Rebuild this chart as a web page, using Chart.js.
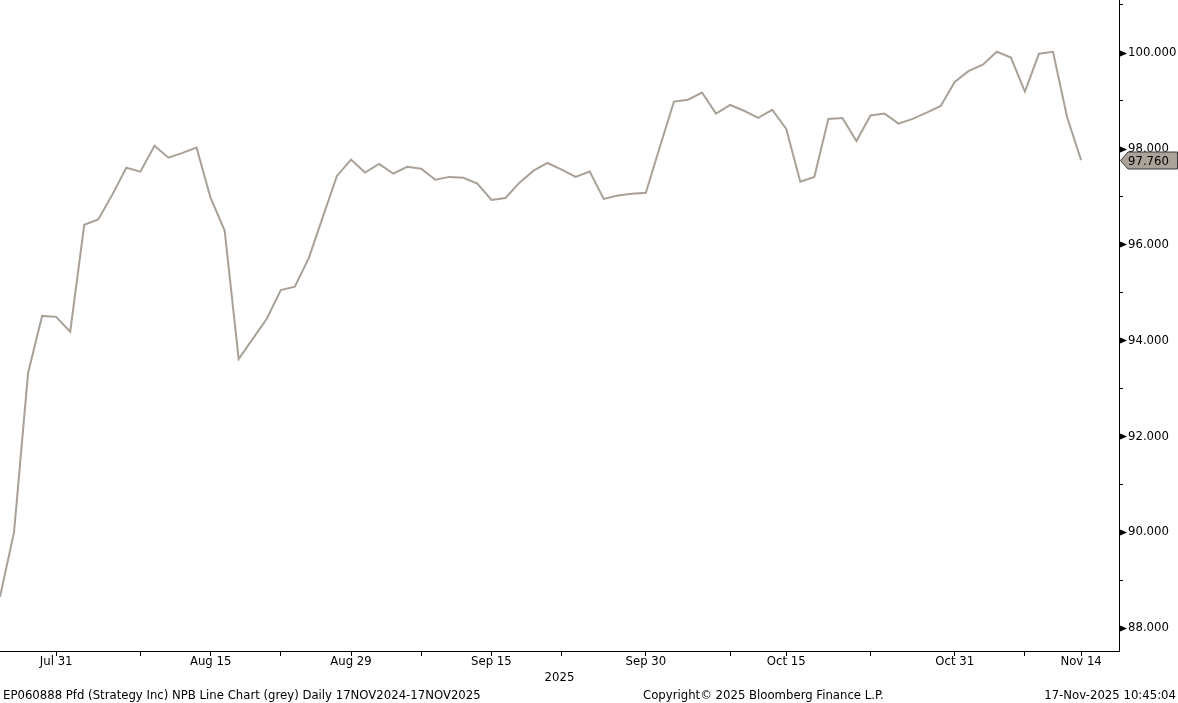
<!DOCTYPE html>
<html>
<head>
<meta charset="utf-8">
<title>EP060888 Pfd</title>
<script src="https://cdn.jsdelivr.net/npm/chart.js@4.4.1/dist/chart.umd.min.js"></script>
<style>
html, body { margin: 0; padding: 0; background: #fff; }
#wrap { position: relative; width: 1178px; height: 703px; overflow: hidden;
	font-family: "DejaVu Sans Condensed", "DejaVu Sans", sans-serif; font-size: 13px; color: #000; }
#chart { position: absolute; left: 0; top: 0; }
.foot { position: absolute; top: 687px; white-space: nowrap; line-height: 15px; }
</style>
</head>
<body>
<div id="wrap">
	<canvas id="chart" width="1178" height="703"></canvas>
	<div class="foot" style="left:3px">EP060888 Pfd (Strategy Inc) NPB Line Chart (grey) Daily 17NOV2024-17NOV2025</div>
	<div class="foot" style="left:643px">Copyright&copy; 2025 Bloomberg Finance L.P.</div>
	<div class="foot" style="right:2px">17-Nov-2025 10:45:04</div>
</div>
<script>
// daily closes, one per trading day (index 0 = left edge of the chart)
var prices = [
	88.65, 90.00, 93.32, 94.51, 94.49, 94.18, 96.41, 96.52, 97.04, 97.60,
	97.52, 98.06, 97.81, 97.91, 98.02, 96.97, 96.29, 93.61, 94.03, 94.45,
	95.05, 95.12, 95.72, 96.58, 97.43, 97.77, 97.50, 97.68, 97.48, 97.62,
	97.58, 97.35, 97.41, 97.39, 97.27, 96.93, 96.97, 97.29, 97.54, 97.70,
	97.56, 97.41, 97.52, 96.95, 97.02, 97.06, 97.08, 98.04, 98.98, 99.02,
	99.17, 98.73, 98.91, 98.79, 98.64, 98.81, 98.41, 97.31, 97.41, 98.62,
	98.64, 98.16, 98.69, 98.73, 98.52, 98.62, 98.75, 98.89, 99.39, 99.62,
	99.75, 100.02, 99.90, 99.19, 99.98, 100.02, 98.66, 97.76
];

var majorTickIndex = [4, 15, 25, 35, 46, 56, 68, 77];
var majorTickLabels = ["Jul 31", "Aug 15", "Aug 29", "Sep 15", "Sep 30", "Oct 15", "Oct 31", "Nov 14"];
var minorTickIndex = [10, 20, 30, 40, 52, 62, 73];
var yTickValues = [88, 89, 90, 91, 92, 93, 94, 95, 96, 97, 98, 99, 100, 101];

var LINE_COLOR = "#a9a197";
var FONT = "'DejaVu Sans Condensed', 'DejaVu Sans', sans-serif";

Chart.defaults.font.family = FONT;
Chart.defaults.font.size = 13;
Chart.defaults.color = "#000";

var points = [];
for (var i = 0; i < prices.length; ++i) {
	points.push({ x: i, y: prices[i] });
}

// arrow heads on the labelled price ticks and the last price tag
var markerPlugin = {
	id: "markers",
	afterDraw: function(chart) {
		var ctx = chart.ctx;
		var yScale = chart.scales.y;
		var left = yScale.left;

		ctx.save();
		ctx.fillStyle = "#000";
		for (var i = 0; i < yTickValues.length; ++i) {
			if (yTickValues[i] % 2 != 0) {
				continue;
			}
			var py = Math.round(yScale.getPixelForValue(yTickValues[i])) + 0.5;
			ctx.beginPath();
			ctx.moveTo(left, py - 3.5);
			ctx.lineTo(left + 8, py);
			ctx.lineTo(left, py + 3.5);
			ctx.closePath();
			ctx.fill();
		}

		var last = prices[prices.length - 1];
		var ly = Math.round(yScale.getPixelForValue(last)) + 0.5;
		var right = chart.width - 0.5;
		ctx.beginPath();
		ctx.moveTo(left + 1.5, ly);
		ctx.lineTo(left + 9, ly - 8.5);
		ctx.lineTo(right, ly - 8.5);
		ctx.lineTo(right, ly + 8.5);
		ctx.lineTo(left + 9, ly + 8.5);
		ctx.closePath();
		ctx.fillStyle = "#aba399";
		ctx.fill();
		ctx.strokeStyle = "#3a3835";
		ctx.lineWidth = 1;
		ctx.stroke();

		ctx.fillStyle = "#000";
		ctx.font = "13px " + FONT;
		ctx.textBaseline = "middle";
		ctx.textAlign = "left";
		ctx.fillText(last.toFixed(3), left + 9, ly + 1);
		ctx.restore();
	}
};

var ctx = document.getElementById("chart").getContext("2d");
var chart = new Chart(ctx, {
	type: "line",
	data: {
		datasets: [
			{
				data: points,
				borderColor: LINE_COLOR,
				borderWidth: 2,
				pointRadius: 0,
				tension: 0,
				fill: false
			}
		]
	},
	options: {
		responsive: false,
		animation: false,
		devicePixelRatio: 1,
		layout: { padding: 0 },
		plugins: {
			legend: { display: false },
			tooltip: { enabled: false }
		},
		scales: {
			x: {
				type: "linear",
				min: 0,
				max: 79.7,
				grid: { drawOnChartArea: false, drawTicks: true, tickLength: 5, color: "#000" },
				border: { display: true, color: "#000", width: 1 },
				afterBuildTicks: function(scale) {
					var ticks = [];
					for (var i = 0; i < majorTickIndex.length; ++i) {
						ticks.push({ value: majorTickIndex[i] });
					}
					for (var i = 0; i < minorTickIndex.length; ++i) {
						ticks.push({ value: minorTickIndex[i] });
					}
					ticks.sort(function(a, b) { return a.value - b.value; });
					scale.ticks = ticks;
				},
				ticks: {
					autoSkip: false,
					maxRotation: 0,
					padding: -2,
					color: "#000",
					callback: function(value) {
						var k = majorTickIndex.indexOf(value);
						return k >= 0 ? majorTickLabels[k] : "";
					}
				},
				title: {
					display: true,
					text: "2025",
					color: "#000",
					font: { size: 13 },
					padding: { top: 0, bottom: 18 }
				},
				afterFit: function(scale) {
					scale.height = 52;
					scale.paddingLeft = 0;
					scale.paddingRight = 0;
				}
			},
			y: {
				position: "right",
				min: 87.52,
				max: 101.1,
				grid: { drawOnChartArea: false, drawTicks: true, tickLength: 4, color: "#000" },
				border: { display: true, color: "#000", width: 1 },
				afterBuildTicks: function(scale) {
					var ticks = [];
					for (var i = 0; i < yTickValues.length; ++i) {
						ticks.push({ value: yTickValues[i] });
					}
					scale.ticks = ticks;
				},
				ticks: {
					padding: 5,
					color: "#000",
					callback: function(value) {
						return value % 2 == 0 ? value.toFixed(3) : "";
					}
				},
				afterFit: function(scale) {
					scale.width = 59;
					scale.paddingTop = 0;
					scale.paddingBottom = 0;
				}
			}
		}
	},
	plugins: [markerPlugin]
});
</script>
</body>
</html>
